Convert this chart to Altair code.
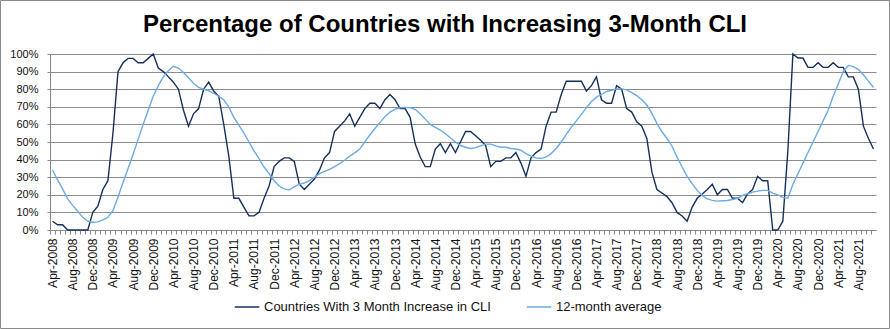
import json
import altair as alt
import pandas as pd

# Monthly categories Apr-2008 .. Nov-2021
months = pd.date_range("2008-04-01", "2021-11-01", freq="MS")
month_labels = [d.strftime("%b-%Y") for d in months]
tick_labels = month_labels[::4]

TITLE = "Percentage of Countries with Increasing 3-Month CLI"

# Countries with 3-month increase in CLI (%)
increase = [
    5, 3, 3, 0, 0, 0, 0, 0, 10, 13.5, 23, 28,
    55, 90, 95, 97.5, 97.5, 95, 95, 97.5, 100, 92, 90, 87,
    84, 80, 68, 59, 66, 69, 80, 84, 79, 76, 60, 42,
    18, 18, 13, 8, 8, 10, 18, 25, 36, 39, 41, 41,
    39, 26, 23, 26, 29, 34, 41, 44, 56, 59, 62, 66,
    59, 64, 69, 72, 72, 69, 74, 77, 74, 69, 69, 64,
    49, 41.5, 36, 36, 46, 49, 44, 49, 44, 50, 56, 56,
    53.5, 51, 48, 36, 39, 39, 41, 41, 44, 38, 30.5, 41,
    44, 46, 59, 67, 67, 77, 84.5, 84.5, 84.5, 84.5, 79, 82,
    87, 74, 72, 72, 82, 80, 69, 67, 61.5, 59, 52, 33,
    23, 21, 19, 15.5, 10, 8, 5, 13, 18, 20.5, 23, 26,
    20, 23, 23, 18, 18, 15.5, 20.5, 23, 30.5, 28, 28, 0,
    0, 5, 45, 100, 97.7, 97.7, 92.4, 92.4, 95, 92.4, 92.4, 95,
    92.4, 92.4, 87, 87, 80, 59, 52, 46,
]

# 12-month average (%)
average = [
    34, 28.5, 23.4, 17.7, 14, 10.7, 7.2, 5, 4.4, 4.6, 5.7, 7.2,
    11, 18.7, 27, 35, 43, 51.5, 60, 68, 76, 82, 87, 90.5,
    93, 92, 89.5, 86.5, 83.4, 81, 80, 79, 77.7, 76, 74, 70,
    64, 59.6, 55, 50, 45, 40.6, 35.8, 32, 28, 25, 23.4, 22.8,
    24.5, 26, 26.7, 28, 30, 32, 33.3, 34.5, 36, 37.7, 39.6, 42,
    43.8, 46, 50, 54, 57.7, 61, 64.4, 67, 68.6, 69.5, 69.7, 69.5,
    68.6, 66, 63, 60, 58.3, 56.8, 54.7, 52.4, 50, 48, 47, 46.3,
    46.8, 47.8, 48.8, 48.8, 47.8, 47, 47, 46.3, 46, 45.3, 43.4, 42,
    41, 40.6, 41.5, 43.4, 46.3, 50, 54.3, 58.3, 62, 65.7, 69.5, 73,
    75.5, 77, 78.7, 79.4, 80.2, 80.2, 79.6, 78, 76.4, 74, 71, 66.3,
    60.6, 55.8, 52, 47.6, 41.5, 35.8, 30.5, 26.3, 22.5, 19.6, 17.7, 16.8,
    16.4, 16.6, 16.8, 17.3, 18, 19.6, 20.6, 21.5, 22.1, 22.5, 22.5, 21,
    20, 18.5, 18, 26, 32, 38, 44, 50, 56, 62, 68, 76,
    83, 90, 93.5, 92.8, 91.3, 88.2, 84.6, 81,
]

series_names = ["Countries With 3 Month Increase in CLI", "12-month average"]
series_colors = ["#15305A", "#6AAAE6"]

n = len(month_labels)
rows = []
for name, vals in zip(series_names, [increase, average]):
    for i, v in enumerate(vals):
        rows.append({"idx": i, "month": month_labels[i], "value": v / 100, "series": name})
df = pd.DataFrame(rows)

FONT = "Liberation Sans"
W, H = 826, 176
band = W / n

label_expr = f"datum.value % 4 == 0 ? {json.dumps(tick_labels)}[datum.value / 4] : ''"

lines = alt.Chart(df).mark_line(strokeWidth=1.4).encode(
    x=alt.X(
        "idx:Q",
        scale=alt.Scale(domain=[-0.5, n - 0.5], nice=False, zero=False),
        axis=alt.Axis(
            title=None,
            values=list(range(n)),
            labelExpr=label_expr,
            labelAngle=270,
            labelOverlap=False,
            labelFont=FONT,
            labelFontSize=12,
            labelColor="#111111",
            labelPadding=4,
            tickOffset=-band / 2,
            labelOffset=band / 2,
            tickSize=4,
            tickColor="#888888",
            domainColor="#888888",
            grid=False,
            labelBound=False,
            labelFlush=False,
        ),
    ),
    y=alt.Y(
        "value:Q",
        scale=alt.Scale(domain=[0, 1], nice=False),
        axis=alt.Axis(
            title=None,
            values=[i / 10 for i in range(11)],
            format=".0%",
            labelFont=FONT,
            labelFontSize=11,
            labelColor="#111111",
            tickSize=3,
            tickColor="#888888",
            labelPadding=9,
            domainColor="#888888",
            gridColor="#8C8C8C",
            gridWidth=1,
        ),
    ),
    color=alt.Color(
        "series:N",
        scale=alt.Scale(domain=series_names, range=series_colors),
        legend=alt.Legend(
            title=None,
            orient="none",
            legendX=184,
            legendY=240,
            direction="horizontal",
            symbolType="stroke",
            symbolSize=600,
            symbolStrokeWidth=1.5,
            labelFont=FONT,
            labelFontSize=13,
            labelColor="#111111",
            labelLimit=0,
            columnPadding=32,
            labelOffset=4,
        ),
    ),
    detail="series:N",
)

title_mark = alt.Chart(alt.Data(values=[{"t": TITLE}])).mark_text(
    font=FONT, fontSize=24, fontWeight="bold", color="#000000",
    align="center", baseline="alphabetic",
).encode(text="t:N", x=alt.value(395), y=alt.value(-22))

border = alt.Chart(alt.Data(values=[{"a": 1}])).mark_rect(
    filled=False, stroke="#8A8A8A", strokeWidth=1
).encode(
    x=alt.value(-49.5), x2=alt.value(W + 13.5), y=alt.value(-53.5), y2=alt.value(H + 98.5)
)

chart = alt.layer(lines, title_mark, border).properties(
    width=W,
    height=H,
    autosize=alt.AutoSizeParams(type="none"),
    padding={"left": 50, "top": 54, "right": 14, "bottom": 99},
    background="white",
).configure_view(stroke=None)

chart.save("out.html", embed_options={"renderer": "svg", "actions": False})
